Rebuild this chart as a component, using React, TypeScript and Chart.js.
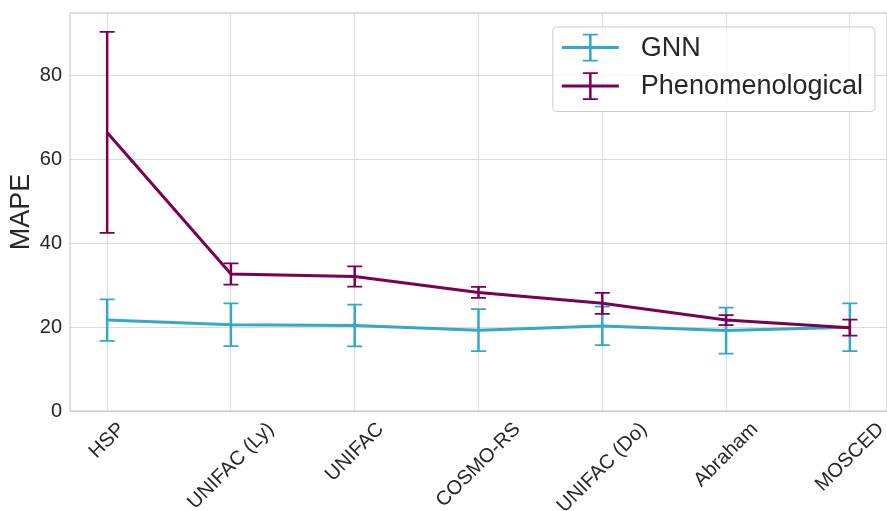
import React, { useEffect, useRef } from 'react';
import { Chart, registerables } from 'chart.js';

Chart.register(...registerables);

// ---- data ----
const categories = ['HSP', 'UNIFAC (Ly)', 'UNIFAC', 'COSMO-RS', 'UNIFAC (Do)', 'Abraham', 'MOSCED'];
const seriesLabels = ['GNN', 'Phenomenological'];
const gnnValues = [21.7, 20.6, 20.4, 19.3, 20.3, 19.2, 20.0];
const gnnErrors = [4.95, 5.1, 5.0, 5.0, 4.6, 5.5, 5.7];
const phenValues = [66.5, 32.7, 32.1, 28.3, 25.7, 21.7, 19.9];
const phenErrors = [24.0, 2.55, 2.4, 1.3, 2.5, 1.2, 1.9];
const yTickValues = [0, 20, 40, 60, 80];

const FONT = "'Liberation Sans', Arial, Helvetica, sans-serif";
const TEXT = '#262626';
const GRID = '#dcdcdc';
const EDGE = '#cccccc';
const COLORS = ['#33a8c7', '#7a0050'];
const TICK_SIZE = 20;

const errorBarPlugin = {
  id: 'errorBars',
  afterDatasetDraw(chart: any, args: any) {
    const ds: any = chart.data.datasets[args.index];
    const errs: number[] = ds.errorValues;
    if (!errs) return;
    const xs = chart.scales.x;
    const ys = chart.scales.y;
    const ctx = chart.ctx;
    ctx.save();
    ctx.strokeStyle = ds.borderColor;
    ds.data.forEach((p: any, i: number) => {
      const x = xs.getPixelForValue(p.x);
      const yt = ys.getPixelForValue(p.y + errs[i]);
      const yb = ys.getPixelForValue(p.y - errs[i]);
      ctx.lineWidth = 2.5;
      ctx.beginPath();
      ctx.moveTo(x, yt);
      ctx.lineTo(x, yb);
      ctx.stroke();
      ctx.lineWidth = 1.75;
      ctx.beginPath();
      ctx.moveTo(x - 7.5, yt);
      ctx.lineTo(x + 7.5, yt);
      ctx.moveTo(x - 7.5, yb);
      ctx.lineTo(x + 7.5, yb);
      ctx.stroke();
    });
    ctx.restore();
  },
};

const framePlugin = {
  id: 'frame',
  beforeDatasetsDraw(chart: any) {
    const { ctx, chartArea: a } = chart;
    ctx.save();
    ctx.strokeStyle = EDGE;
    ctx.lineWidth = 1.25;
    ctx.strokeRect(a.left, a.top, a.right - a.left, a.bottom - a.top);
    ctx.restore();
  },
};

const xLabelPlugin = {
  id: 'xLabels',
  afterDraw(chart: any) {
    const { ctx, chartArea: a } = chart;
    const xs = chart.scales.x;
    const size = TICK_SIZE;
    ctx.save();
    ctx.font = `${size}px ${FONT}`;
    ctx.fillStyle = TEXT;
    ctx.textAlign = 'center';
    ctx.textBaseline = 'middle';
    categories.forEach((label, i) => {
      const x = xs.getPixelForValue(i);
      const w = ctx.measureText(label).width;
      const h = size * 1.15;
      const cy = a.bottom + 7 + ((w + h) * Math.SQRT1_2) / 2;
      ctx.save();
      ctx.translate(x, cy);
      ctx.rotate(-Math.PI / 4);
      ctx.fillText(label, 0, 0);
      ctx.restore();
    });
    ctx.restore();
  },
};

const legendPlugin = {
  id: 'boxLegend',
  afterDraw(chart: any) {
    const { ctx, chartArea: a } = chart;
    const size = 27;
    ctx.save();
    ctx.font = `${size}px ${FONT}`;
    const labels = chart.data.datasets.map((d: any) => d.label);
    const textW = Math.max(...labels.map((l: string) => ctx.measureText(l).width));
    const padL = 9, handle = 57, gap = 22, padR = 12;
    const boxW = padL + handle + gap + textW + padR;
    const right = a.right - 12;
    const left = right - boxW;
    const top = a.top + 14;
    const rowH = 38.5;
    const boxH = 84.5;
    ctx.beginPath();
    ctx.roundRect(left, top, boxW, boxH, 4);
    ctx.fillStyle = 'rgba(255,255,255,0.8)';
    ctx.fill();
    ctx.strokeStyle = EDGE;
    ctx.lineWidth = 1;
    ctx.stroke();
    chart.data.datasets.forEach((d: any, i: number) => {
      const cy = top + 20.5 + i * rowH;
      const x0 = left + padL;
      const xm = x0 + handle / 2;
      ctx.strokeStyle = d.borderColor;
      ctx.lineWidth = 3;
      ctx.beginPath();
      ctx.moveTo(x0, cy);
      ctx.lineTo(x0 + handle, cy);
      ctx.stroke();
      ctx.lineWidth = 2.5;
      ctx.beginPath();
      ctx.moveTo(xm, cy - 13);
      ctx.lineTo(xm, cy + 13);
      ctx.stroke();
      ctx.lineWidth = 1.75;
      ctx.beginPath();
      ctx.moveTo(xm - 7.5, cy - 13);
      ctx.lineTo(xm + 7.5, cy - 13);
      ctx.moveTo(xm - 7.5, cy + 13);
      ctx.lineTo(xm + 7.5, cy + 13);
      ctx.stroke();
      ctx.fillStyle = TEXT;
      ctx.textAlign = 'left';
      ctx.textBaseline = 'middle';
      ctx.fillText(d.label, x0 + handle + gap, cy + 1);
    });
    ctx.restore();
  },
};

export default function App() {
  const ref = useRef<HTMLCanvasElement>(null);

  useEffect(() => {
    document.body.style.margin = '0';
    const canvas = ref.current;
    if (!canvas) return;
    const chart = new Chart(canvas, {
      type: 'line',
      data: {
        datasets: [
          {
            label: seriesLabels[0],
            data: gnnValues.map((v, i) => ({ x: i, y: v })),
            errorValues: gnnErrors,
            borderColor: COLORS[0],
            backgroundColor: COLORS[0],
            borderWidth: 3,
            pointRadius: 0,
            tension: 0,
            order: 2,
          } as any,
          {
            label: seriesLabels[1],
            data: phenValues.map((v, i) => ({ x: i, y: v })),
            errorValues: phenErrors,
            borderColor: COLORS[1],
            backgroundColor: COLORS[1],
            borderWidth: 3,
            pointRadius: 0,
            tension: 0,
            order: 1,
          } as any,
        ],
      },
      options: {
        responsive: false,
        maintainAspectRatio: false,
        animation: false,
        layout: { padding: { top: 13, right: 0, left: 0, bottom: 0 } },
        plugins: {
          legend: { display: false },
          tooltip: { enabled: false },
        },
        scales: {
          x: {
            type: 'linear',
            min: -0.3,
            max: categories.length - 1 + 0.3,
            afterBuildTicks: (scale: any) => {
              scale.ticks = categories.map((_, i) => ({ value: i }));
            },
            afterFit: (scale: any) => {
              scale.height = 100;
              scale.paddingLeft = 0;
              scale.paddingRight = 0;
            },
            ticks: { display: false },
            grid: { color: GRID, lineWidth: 1, drawTicks: false },
            border: { display: false },
          },
          y: {
            type: 'linear',
            min: 0,
            max: 95,
            afterBuildTicks: (scale: any) => {
              scale.ticks = yTickValues.map((v) => ({ value: v }));
            },
            afterFit: (scale: any) => {
              scale.width = 70;
              scale.paddingTop = 0;
              scale.paddingBottom = 0;
            },
            ticks: {
              color: TEXT,
              font: { family: FONT, size: TICK_SIZE },
              padding: 8,
            },
            grid: { color: GRID, lineWidth: 1, drawTicks: false },
            border: { display: false },
            title: {
              display: true,
              text: 'MAPE',
              color: TEXT,
              font: { family: FONT, size: 27 },
              padding: { top: 5, bottom: 0 },
            },
          },
        },
      } as any,
      plugins: [framePlugin, errorBarPlugin, xLabelPlugin, legendPlugin],
    });
    return () => chart.destroy();
  }, []);

  return (
    <div style={{ width: 887, height: 511 }}>
      <canvas ref={ref} width={887} height={511} style={{ display: 'block' }} />
    </div>
  );
}
